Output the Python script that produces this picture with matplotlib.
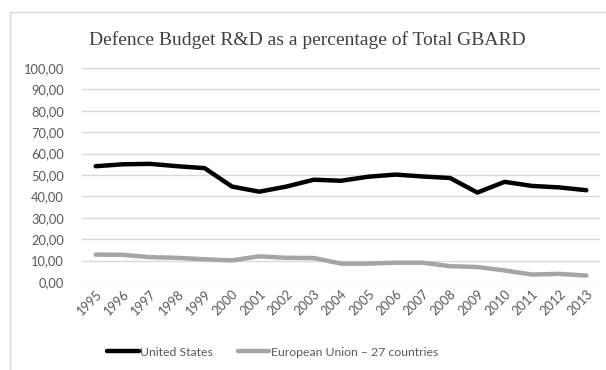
import matplotlib
matplotlib.use("Agg")
from matplotlib import pyplot as plt
from matplotlib.patches import Rectangle
import numpy as np

# data
years = [str(y) for y in range(1995, 2014)]
united_states = [54.1, 55.0, 55.2, 54.1, 53.2, 44.6, 42.2, 44.6, 47.8, 47.3,
                 49.2, 50.2, 49.3, 48.6, 41.8, 46.8, 44.9, 44.2, 42.9]
eu27 = [12.8, 12.7, 11.6, 11.3, 10.6, 10.1, 12.0, 11.3, 11.2, 8.6,
        8.6, 9.0, 9.0, 7.4, 7.0, 5.4, 3.5, 3.8, 3.0]
yticks = np.arange(0, 101, 10)

tick_font = "Lato"
grey_text = "#595959"

fig = plt.figure(figsize=(6.06, 3.70), dpi=100)

# light chart-area border (cut off on the right and bottom like the reference)
fig.patches.append(Rectangle((10 / 606, -0.1), 1.0, (370 - 12) / 370 + 0.1,
                             transform=fig.transFigure, fill=False,
                             edgecolor="#D9D9D9", linewidth=1.0))

ax = fig.add_axes([82 / 606, (370 - 282) / 370, (600 - 82) / 606, (282 - 68) / 370])
x = np.arange(len(years))
ax.plot(x, united_states, color="black", linewidth=3.2, solid_capstyle="round",
        label="United States")
ax.plot(x, eu27, color="#A5A5A5", linewidth=3.2, solid_capstyle="round",
        label="European Union \u2013 27 countries")

ax.set_xlim(-0.5, len(years) - 0.5)
ax.set_ylim(0, 100)
ax.set_yticks(yticks)
ax.set_yticklabels([f"{v:.2f}".replace(".", ",") for v in yticks],
                   fontfamily=tick_font, fontsize=9.3, color=grey_text)
ax.set_xticks(x)
ax.set_xticklabels(years, rotation=45, ha="right", rotation_mode="anchor",
                   fontfamily=tick_font, fontsize=9.3, color=grey_text)
ax.tick_params(axis="x", length=0, pad=4)
ax.tick_params(axis="y", length=0, pad=13)
ax.grid(axis="y", color="#D9D9D9", linewidth=1.0)
ax.set_axisbelow(True)
for s in ax.spines.values():
    s.set_visible(False)

fig.text(0.507, 1 - 40 / 370, "Defence Budget R&D as a percentage of Total GBARD",
         ha="center", va="center", fontfamily="Liberation Serif", fontsize=14,
         color="#404040")

fig.legend(loc="center", bbox_to_anchor=(0.45, (370 - 352) / 370), ncol=2,
           frameon=False, handlelength=2.6, handletextpad=0.1, columnspacing=2.0,
           prop={"family": tick_font, "size": 8.8}, labelcolor=grey_text)

fig.savefig("out.png", dpi=100)
